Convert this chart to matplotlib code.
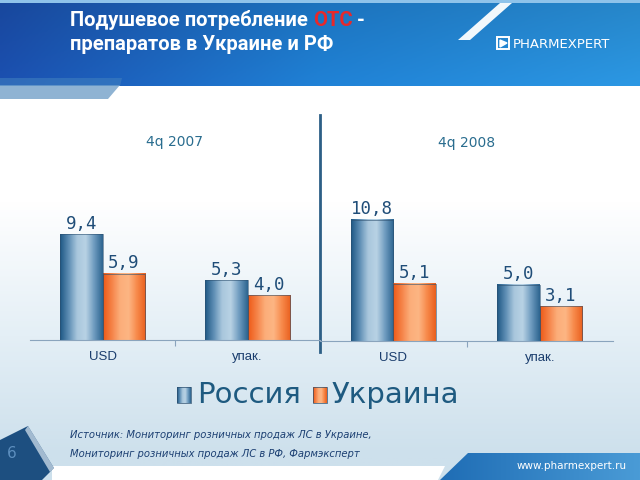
import numpy as np
import matplotlib
matplotlib.use("Agg")
import matplotlib.pyplot as plt
from matplotlib.colors import to_rgb, LinearSegmentedColormap
from matplotlib.patches import Polygon, Rectangle

# ---------------- data ----------------
categories = ["USD", "упак."]
periods = ["4q 2007", "4q 2008"]
russia_2007 = [9.4, 5.3]
ukraine_2007 = [5.9, 4.0]
russia_2008 = [10.8, 5.0]
ukraine_2008 = [5.1, 3.1]
series_names = ["Россия", "Украина"]
title_parts = ["Подушевое потребление ", "ОТС", " -"]
title_line2 = "препаратов в Украине и РФ"
source_lines = ["Источник: Мониторинг розничных продаж ЛС в Украине,",
                "Мониторинг розничных продаж ЛС в РФ, Фармэксперт"]

W, H = 640, 480
fig = plt.figure(figsize=(6.4, 4.8), dpi=100)

# ---------------- background (pixel coords) ----------------
bg = fig.add_axes([0, 0, 1, 1], zorder=0)
bg.set_xlim(0, W); bg.set_ylim(H, 0); bg.axis("off")

ys = np.linspace(0, 1, 256)
top = np.array(to_rgb("#ffffff")); mid = np.array(to_rgb("#e4eff6")); bot = np.array(to_rgb("#cde0ec"))
img = np.zeros((256, 2, 3))
for i, y in enumerate(ys):
    if y < 0.42:
        c = top
    elif y < 0.7:
        t = (y - 0.42) / 0.28
        c = top * (1 - t) + mid * t
    else:
        t = min((y - 0.7) / 0.25, 1)
        c = mid * (1 - t) + bot * t
    img[i, :, :] = c
bg.imshow(img, extent=(0, W, H, 0), aspect="auto", zorder=0)

# header gradient
hx = np.linspace(0, 1, 200)
hy = np.linspace(0, 1, 40)[:, None]
c1 = np.array(to_rgb("#1b4fae")); c2 = np.array(to_rgb("#1f7fd2")); c3 = np.array(to_rgb("#2b95df"))
himg = np.zeros((40, 200, 3))
for j, xv in enumerate(hx):
    if xv < 0.5:
        c = c1 * (1 - xv / 0.5) + c2 * (xv / 0.5)
    else:
        c = c2 * (1 - (xv - 0.5) / 0.5) + c3 * ((xv - 0.5) / 0.5)
    himg[:, j, :] = c
himg = np.clip(himg * (0.9 + 0.12 * hy[:, :, None]), 0, 1)
bg.imshow(himg, extent=(0, W, 86, 0), aspect="auto", zorder=1)
bg.add_patch(Rectangle((0, 0), W, 3, color="#8fc3ea", zorder=2, lw=0))
bg.add_patch(Polygon([(0, 85), (120, 85), (108, 99), (0, 99)], closed=True,
                     color="#8fb3d3", zorder=2, lw=0))
bg.add_patch(Polygon([(0, 78), (122, 78), (120, 86), (0, 86)], closed=True,
                     color="#3f7ebf", zorder=2, lw=0, alpha=0.6))
bg.add_patch(Polygon([(500, 3), (512, 3), (470, 40), (458, 40)], closed=True,
                     color="white", zorder=2, lw=0, alpha=0.95))

# logo
bg.add_patch(Rectangle((497, 37), 12, 12, fill=False, ec="white", lw=1.4, zorder=3))
bg.add_patch(Polygon([(500, 40), (507, 43), (500, 47)], closed=True, color="white", zorder=3))
fig.text(513 / W, 1 - 44 / H, "PHARMEXPERT", color="white", fontsize=9.5,
         family="DejaVu Sans", va="center", ha="left", zorder=5)

# title
tfam = ["Roboto", "DejaVu Sans"]
tx = 70
t = fig.text(tx / W, 1 - 20 / H, title_parts[0], color="white", fontsize=14.5,
             family=tfam, weight="bold", va="center", ha="left", zorder=5)
fig.canvas.draw()
r = fig.canvas.get_renderer()
bb = t.get_window_extent(r)
t2 = fig.text(bb.x1 / W, 1 - 20 / H, title_parts[1], color="#e8282a", fontsize=14.5,
              family=tfam, weight="bold", va="center", ha="left", zorder=5)
bb2 = t2.get_window_extent(r)
fig.text(bb2.x1 / W, 1 - 20 / H, title_parts[2], color="white", fontsize=14.5,
         family=tfam, weight="bold", va="center", ha="left", zorder=5)
fig.text(tx / W, 1 - 45 / H, title_line2, color="white", fontsize=14.5,
         family=tfam, weight="bold", va="center", ha="left", zorder=5)

# bottom decorations
bg.add_patch(Polygon([(52, 466), (445, 466), (438, 480), (52, 480)], closed=True,
                     color="white", zorder=2, lw=0))
bx = np.linspace(0, 1, 100)
bimg = np.zeros((10, 100, 3))
for j, xv in enumerate(bx):
    bimg[:, j, :] = np.array(to_rgb("#1f6db5")) * (1 - xv) + np.array(to_rgb("#4a9bd6")) * xv
im_b = bg.imshow(bimg, extent=(440, W, 480, 453), aspect="auto", zorder=3)
clip = Polygon([(468, 453), (W, 453), (W, 480), (440, 480)], closed=True,
               transform=bg.transData)
im_b.set_clip_path(clip)
fig.text(572 / W, 1 - 466 / H, "www.pharmexpert.ru", color="white", fontsize=7.5,
         ha="center", va="center", zorder=5)
bg.add_patch(Polygon([(0, 440), (28, 426), (54, 468), (42, 480), (0, 480)], closed=True,
                     color="#1d4f80", zorder=3, lw=0))
bg.add_patch(Polygon([(28, 426), (54, 468), (50, 472), (25, 430)], closed=True,
                     color="#dbe9f3", zorder=3, lw=0, alpha=0.7))
fig.text(12 / W, 1 - 454 / H, "6", color="#5d8fbf", fontsize=11, ha="center",
         va="center", zorder=5)

# ---------------- bar charts ----------------
rus_grad = ["#1f5885", "#5f8fb5", "#a9c7dd", "#b8d2e4", "#6f9cc0", "#2e6590"]
ukr_grad = ["#ee5a18", "#f58348", "#fcae7a", "#fdb583", "#f7894a", "#e9601f"]
cm_r = LinearSegmentedColormap.from_list("r", rus_grad)
cm_u = LinearSegmentedColormap.from_list("u", ukr_grad)
gx = np.linspace(0, 1, 64)[None, :]

def gradient_bars(ax, bars, cmap):
    for b in bars:
        x0, w, h = b.get_x(), b.get_width(), b.get_height()
        ax.imshow(cmap(gx), extent=(x0, x0 + w, 0, h), aspect="auto", zorder=2)
        ax.add_patch(Rectangle((x0, 0), w, h, fill=False, ec="#2c4f6e", lw=0.4, zorder=3))

label_color = "#1f4d78"
axis_color = "#8aa4bd"
bar_w = 0.29
x = np.arange(len(categories))

panels = [
    ([30 / W, 1 - 340 / H, 290 / W, 225 / H], russia_2007, ukraine_2007, periods[0]),
    ([320 / W, 1 - 341 / H, 293 / W, 225 / H], russia_2008, ukraine_2008, periods[1]),
]
for rect, rus, ukr, per in panels:
    ax = fig.add_axes(rect, zorder=2)
    ax.patch.set_alpha(0)
    b1 = ax.bar(x - bar_w / 2, rus, bar_w, color="none", edgecolor="none")
    b2 = ax.bar(x + bar_w / 2, ukr, bar_w, color="none", edgecolor="none")
    gradient_bars(ax, b1, cm_r)
    gradient_bars(ax, b2, cm_u)
    for bars, vals in ((b1, rus), (b2, ukr)):
        for b, v in zip(bars, vals):
            ax.text(b.get_x() + b.get_width() / 2, v + 0.12, f"{v:.1f}".replace(".", ","),
                    ha="center", va="bottom", fontsize=12.5, color=label_color,
                    family="DejaVu Sans Mono")
    ax.set_xlim(-0.5, 1.5)
    ax.set_ylim(0, 20)
    for s in ("top", "right", "left"):
        ax.spines[s].set_visible(False)
    ax.spines["bottom"].set_color(axis_color)
    ax.spines["bottom"].set_linewidth(0.8)
    ax.set_yticks([])
    ax.set_xticks([0.5])
    ax.set_xticklabels([])
    ax.tick_params(axis="x", which="major", length=4, color=axis_color, direction="out")
    ax.set_xticks(x, minor=True)
    ax.set_xticklabels(categories, minor=True)
    ax.tick_params(axis="x", which="minor", length=0, pad=8, labelsize=9.5,
                   labelcolor="#1a3d6d")
    for lab in ax.get_xticklabels(minor=True):
        lab.set_family("Liberation Sans")
    ax.text(0.5, 0.88, per, transform=ax.transAxes, ha="center", va="center",
            fontsize=10, color="#2a6d8f", family="DejaVu Sans")

# separator
bg.plot([320, 320], [115, 352], color="#2d5f86", lw=2, zorder=4)

# legend
cm_sq_r = cm_r(np.linspace(0, 1, 32)[None, :])
cm_sq_u = cm_u(np.linspace(0, 1, 32)[None, :])
bg.imshow(cm_sq_r, extent=(177, 191, 403, 387), aspect="auto", zorder=4)
bg.add_patch(Rectangle((177, 387), 14, 16, fill=False, ec="#2c4f6e", lw=0.5, zorder=5))
bg.imshow(cm_sq_u, extent=(313, 327, 403, 387), aspect="auto", zorder=4)
bg.add_patch(Rectangle((313, 387), 14, 16, fill=False, ec="#2c4f6e", lw=0.5, zorder=5))
fig.text(197 / W, 1 - 395 / H, series_names[0], fontsize=21, color="#1e5a80",
         family="DejaVu Sans", ha="left", va="center", zorder=5)
fig.text(332 / W, 1 - 395 / H, series_names[1], fontsize=21, color="#1e5a80",
         family="DejaVu Sans", ha="left", va="center", zorder=5)

# source
fig.text(70 / W, 1 - 435 / H, source_lines[0], fontsize=7.2, style="italic",
         color="#1b3f72", ha="left", va="center", zorder=5)
fig.text(70 / W, 1 - 454 / H, source_lines[1], fontsize=7.2, style="italic",
         color="#1b3f72", ha="left", va="center", zorder=5)

fig.savefig("out.png", dpi=100)
